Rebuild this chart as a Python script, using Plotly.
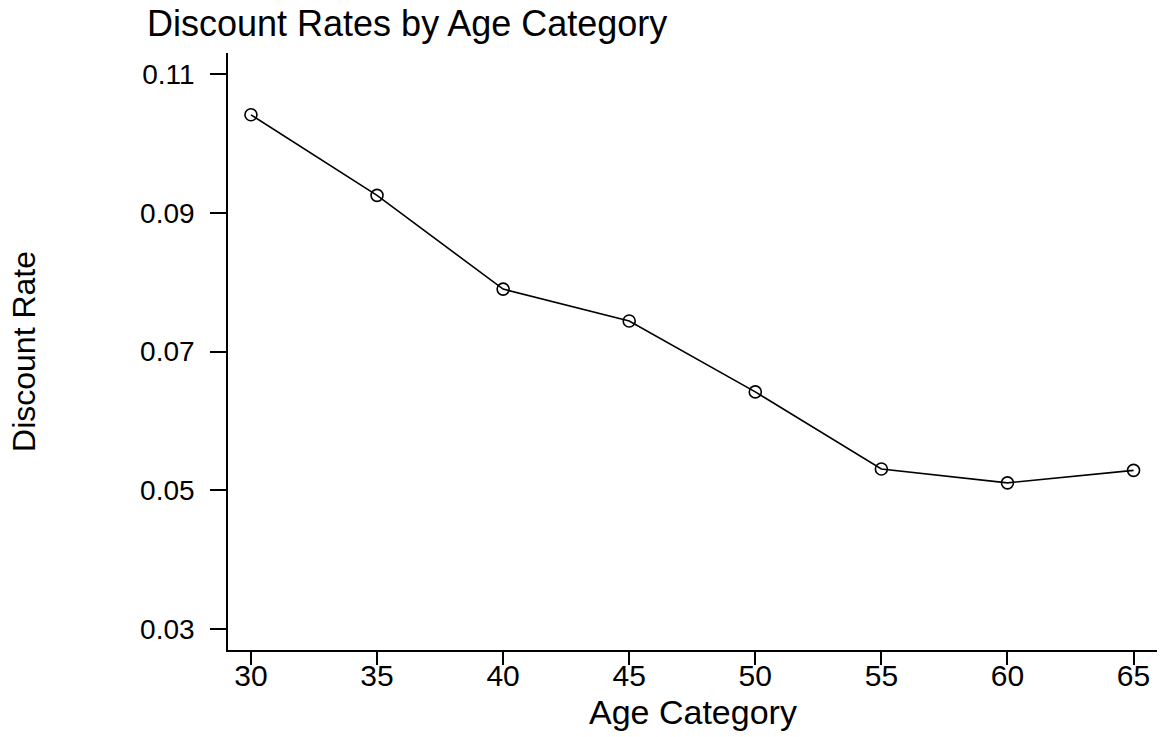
import plotly.graph_objects as go

ages = [30, 35, 40, 45, 50, 55, 60, 65]
rates = [0.1041, 0.0925, 0.0790, 0.0744, 0.0642, 0.0531, 0.0511, 0.0529]
x_ticks = [30, 35, 40, 45, 50, 55, 60, 65]
y_ticks = [0.03, 0.05, 0.07, 0.09, 0.11]
y_tick_labels = ["0.03", "0.05", "0.07", "0.09", "0.11"]

FONT = "Liberation Sans, Arial, Helvetica, sans-serif"
W, H = 1169, 737
L, R, T, B = 228, 12, 53, 87
PH = H - T - B

fig = go.Figure()
fig.add_trace(go.Scatter(
    x=ages, y=rates, mode="lines+markers",
    line=dict(color="black", width=1.6),
    marker=dict(symbol="circle-open", size=12, color="black", line=dict(width=1.6)),
    showlegend=False,
))

fig.update_layout(
    width=W, height=H,
    margin=dict(l=L, r=R, t=T, b=B, autoexpand=False),
    paper_bgcolor="white", plot_bgcolor="white",
    font=dict(family=FONT, color="black"),
    title=dict(text="Discount Rates by Age Category", x=147/W, xanchor="left",
               xref="container", y=1-23/H, yref="container", yanchor="middle",
               font=dict(size=36, family=FONT, color="black")),
)
fig.add_annotation(
    text="Age Category", xref="paper", yref="paper", x=0.5, y=-(712 - (H - B)) / PH,
    xanchor="center", yanchor="middle", showarrow=False,
    font=dict(size=34, family=FONT, color="black"),
)
fig.update_xaxes(
    range=[29.09, 65.93], tickvals=x_ticks, ticks="outside", ticklen=13, tickwidth=1.6,
    tickcolor="black", showline=True, linecolor="black", linewidth=1.6,
    showgrid=False, zeroline=False, tickfont=dict(size=30, family=FONT),
    ticklabelstandoff=-15, automargin=False,
)
fig.update_yaxes(
    range=[0.02703, 0.1130], tickvals=y_ticks, ticktext=y_tick_labels, ticks="outside",
    ticklen=16, tickwidth=1.6, tickcolor="black", showline=True, linecolor="black",
    linewidth=1.6, showgrid=False, zeroline=False, tickfont=dict(size=28, family=FONT),
    ticklabelstandoff=10, automargin=False,
    title=dict(text="Discount Rate", font=dict(size=32, family=FONT), standoff=95),
)

fig.write_html("out.html", config={"displayModeBar": False},
               post_script="document.body.style.margin='0px';")
